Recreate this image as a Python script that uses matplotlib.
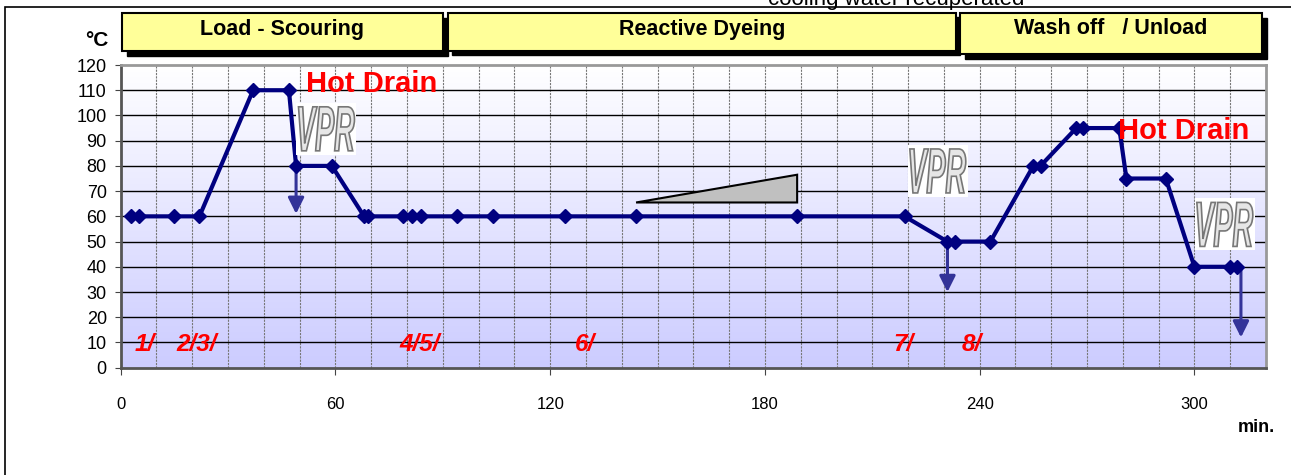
import matplotlib
matplotlib.use('Agg')
import matplotlib.pyplot as plt
from matplotlib.patches import Rectangle, Polygon, PathPatch
from matplotlib.textpath import TextPath
from matplotlib.font_manager import FontProperties
from matplotlib.transforms import Affine2D
from matplotlib.colors import LinearSegmentedColormap
import numpy as np

plt.rcParams['font.family'] = ['Liberation Sans', 'DejaVu Sans']

# process curve
times = [3, 5, 15, 22, 37, 47, 49, 59, 68, 69, 79, 81.5, 84, 94, 104, 124, 144,
         189, 219, 231, 233, 243, 255, 257, 267, 269, 279, 281, 292, 300, 310, 312]
temps = [60, 60, 60, 60, 110, 110, 80, 80, 60, 60, 60, 60, 60, 60, 60, 60, 60,
         60, 60, 50, 50, 50, 80, 80, 95, 95, 95, 75, 75, 40, 40, 40]

# drains (x, from, to)
drains = [(49, 80, 61), (231, 50, 30), (313, 40, 12)]

# step labels
steps = ['1/', '2/3/', '4/5/', '6/', '7/', '8/']
step_x = [4, 15.5, 78, 127, 216, 235]

hot_drain = [(51.8, 112.5), (278.6, 94)]
vpr = [(57.5, 94.7), (228.3, 78), (308.5, 56.8)]

phases = ['Load - Scouring', 'Reactive Dyeing', 'Wash off   / Unload']

W, H = 1291, 475
fig = plt.figure(figsize=(W / 100, H / 100), dpi=100)
ax = fig.add_axes([120.7 / W, 1 - 367.7 / H, (1266 - 120.7) / W, (367.7 - 65) / H])

ax.set_xlim(0, 320)
ax.set_ylim(0, 120)

# gradient background
grad = np.linspace(0, 1, 256).reshape(-1, 1)
cm = LinearSegmentedColormap.from_list('bg', ['#CCCCFF', '#FFFFFF'])
ax.imshow(grad, cmap=cm, extent=[0, 320, 0, 120], origin='lower', aspect='auto', zorder=0)

for xv in range(10, 320, 10):
    ax.axvline(xv, color='#777777', lw=0.8, ls=(0, (2, 1)), zorder=1)
for yv in range(10, 120, 10):
    ax.axhline(yv, color='black', lw=1.0, zorder=1)

ax.plot(times, temps, color='#000080', lw=3, marker='D', ms=7.5, zorder=4)

for x, y0, y1 in drains:
    ax.annotate('', xy=(x, y1), xytext=(x, y0),
                arrowprops=dict(arrowstyle='-|>', color='#333399', lw=2.2,
                                mutation_scale=24, shrinkA=0, shrinkB=0), zorder=3)

tri = Polygon([(144, 65.5), (189, 76.5), (189, 65.5)], closed=True,
              facecolor='#C0C0C0', edgecolor='black', lw=1.5, zorder=3)
ax.add_patch(tri)

for s, x in zip(steps, step_x):
    ax.text(x, 9.3, s, color='red', fontsize=17.5, fontweight='bold', style='italic',
            va='center', ha='left', zorder=5)

for x, y in hot_drain:
    ax.text(x, y, 'Hot Drain', color='red', fontsize=21, fontweight='bold',
            va='center', ha='left', zorder=5)

# VPR logos: narrow, tall outlined letters on a white patch
fp = FontProperties(family='Liberation Sans', weight='bold', style='italic')
tp = TextPath((0, 0), 'VPR', size=1, prop=fp)
ext = tp.get_extents()
for x, y in vpr:
    cx, cy = ax.transData.transform((x, y))
    bw, bh = 56, 44
    ax.add_patch(Rectangle((cx - bw / 2 - 2, cy - bh / 2 - 4), bw + 4, bh + 8,
                           transform=None, facecolor='white', edgecolor='none', zorder=5))
    tr = (Affine2D().translate(-(ext.x0 + ext.width / 2), -(ext.y0 + ext.height / 2))
          .scale(bw / ext.width, bh / ext.height).translate(cx, cy))
    ax.add_patch(PathPatch(tr.transform_path(tp), transform=None, facecolor='#E6E6E6',
                           edgecolor='#777777', lw=1.2, zorder=6))

ax.set_xticks(range(0, 301, 60))
ax.set_yticks(range(0, 121, 10))
ax.tick_params(axis='x', labelsize=12, length=5, pad=16, color='#444444')
ax.tick_params(axis='y', labelsize=13, length=4, pad=6, color='#444444')
for sp in ['left', 'bottom']:
    ax.spines[sp].set_color('#555555')
    ax.spines[sp].set_linewidth(2)
for sp in ['top', 'right']:
    ax.spines[sp].set_color('#999999')
    ax.spines[sp].set_linewidth(2)

# outer frame
fig.add_artist(Rectangle((5 / W, -0.1), 1.1, 1 - 7 / H + 0.1, transform=fig.transFigure,
                         facecolor='none', edgecolor='black', lw=1.2))

fig.text(896 / W, 1 - 5 / H, 'cooling water recuperated', fontsize=16,
         ha='center', va='baseline')

# phase headers
boxes = [(122, 443, 12.7, 51, 5), (448, 956, 13, 50.7, 4), (960, 1262, 12.7, 54, 5)]
for (x0, x1, y0, y1, off), name in zip(boxes, phases):
    fig.add_artist(Rectangle(((x0 + off) / W, 1 - (y1 + off) / H), (x1 - x0) / W, (y1 - y0) / H,
                             transform=fig.transFigure, facecolor='black', edgecolor='black'))
    fig.add_artist(Rectangle((x0 / W, 1 - y1 / H), (x1 - x0) / W, (y1 - y0) / H,
                             transform=fig.transFigure, facecolor='#FFFF99',
                             edgecolor='black', lw=1.5))
    fig.text((x0 + x1) / 2 / W, 1 - 29 / H, name, fontsize=15.5, fontweight='bold',
             ha='center', va='center')

fig.text(97 / W, 1 - 40 / H, '°C', fontsize=15, fontweight='bold', ha='center', va='center')
fig.text(1256 / W, 1 - 427 / H, 'min.', fontsize=13, fontweight='bold', ha='center', va='center')

fig.savefig('out.png', dpi=100)
